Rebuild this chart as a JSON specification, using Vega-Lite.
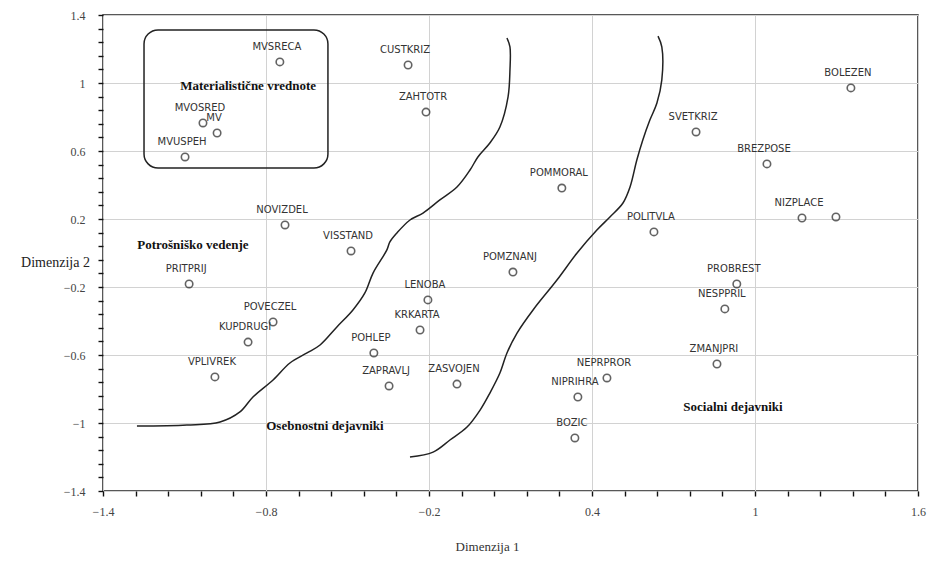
{
  "$schema": "https://vega.github.io/schema/vega-lite/v6.json",
  "width": 815,
  "height": 476,
  "autosize": {"type": "none"},
  "padding": {"left": 103, "top": 15, "right": 27, "bottom": 73},
  "background": "white",
  "config": {
    "view": {"stroke": "#222", "strokeWidth": 1.5}
  },
  "encoding": {
    "x": {
      "field": "x", "type": "quantitative",
      "scale": {"domain": [-1.4, 1.6], "nice": false, "zero": false},
      "axis": {
        "title": "Dimenzija 1",
        "values": [-1.4, -1.28, -1.16, -1.04, -0.92, -0.8, -0.68, -0.56, -0.44, -0.32, -0.2, -0.08, 0.04, 0.16, 0.28, 0.4, 0.52, 0.64, 0.76, 0.88, 1.0, 1.12, 1.24, 1.36, 1.48, 1.6],
        "labelExpr": "abs((datum.value+1.4)/0.6 - round((datum.value+1.4)/0.6)) < 0.01 ? format(datum.value, '.1~f') : ''",
        "labelOverlap": false,
        "labelFlush": false,
        "grid": true,
        "gridColor": "#d2d2d2",
        "gridWidth": 1,
        "gridOpacity": {"condition": {"test": "abs((datum.value+1.4)/0.6 - round((datum.value+1.4)/0.6)) < 0.01", "value": 1}, "value": 0},
        "domain": false,
        "ticks": true,
        "tickSize": 5,
        "tickColor": "#111",
        "tickWidth": 1.4,
        "encode": {"ticks": {"update": {"y2": {"value": -5}}}},
        "labelPadding": 10,
        "labelFont": "Liberation Serif",
        "labelFontSize": 12,
        "labelColor": "#444",
        "titleFont": "Liberation Serif",
        "titleFontSize": 13,
        "titleFontWeight": "normal",
        "titleColor": "#333",
        "titleX": 384,
        "titleY": 55,
        "titleAlign": "center",
        "titleBaseline": "middle"
      }
    },
    "y": {
      "field": "y", "type": "quantitative",
      "scale": {"domain": [-1.4, 1.4], "nice": false, "zero": false},
      "axis": {
        "title": "Dimenzija 2",
        "values": [-1.4, -1.32, -1.24, -1.16, -1.08, -1.0, -0.92, -0.84, -0.76, -0.68, -0.6, -0.52, -0.44, -0.36, -0.28, -0.2, -0.12, -0.04, 0.04, 0.12, 0.2, 0.28, 0.36, 0.44, 0.52, 0.6, 0.68, 0.76, 0.84, 0.92, 1.0, 1.08, 1.16, 1.24, 1.32, 1.4],
        "labelExpr": "abs((datum.value+1.4)/0.4 - round((datum.value+1.4)/0.4)) < 0.01 ? format(datum.value, '.1~f') : ''",
        "labelOverlap": false,
        "labelFlush": false,
        "grid": true,
        "gridColor": "#d2d2d2",
        "gridWidth": 1,
        "gridOpacity": {"condition": {"test": "abs((datum.value+1.4)/0.4 - round((datum.value+1.4)/0.4)) < 0.01", "value": 1}, "value": 0},
        "domain": false,
        "ticks": true,
        "tickSize": 5,
        "tickColor": "#111",
        "tickWidth": 1.4,
        "encode": {"ticks": {"update": {"x2": {"value": 5}}}},
        "labelPadding": 13,
        "labelFont": "Liberation Serif",
        "labelFontSize": 12,
        "labelColor": "#444",
        "titleFont": "Liberation Serif",
        "titleFontSize": 14,
        "titleFontWeight": "normal",
        "titleColor": "#222",
        "titleAngle": 0,
        "titleX": -48,
        "titleY": 247,
        "titleAlign": "center",
        "titleBaseline": "middle"
      }
    }
  },
  "layer": [
    {
      "data": {"values": [{"x": -1.249, "xe": -0.572, "y": 1.312, "ye": 0.5}]},
      "mark": {"type": "rect", "cornerRadius": 14, "fill": "transparent", "stroke": "#222", "strokeWidth": 1.5},
      "encoding": {"x2": {"field": "xe"}, "y2": {"field": "ye"}}
    },
    {
      "data": {"values": [
        {"curve": "a", "order": 1, "x": 0.087, "y": 1.265},
        {"curve": "a", "order": 2, "x": 0.098, "y": 1.212},
        {"curve": "a", "order": 3, "x": 0.098, "y": 1.076},
        {"curve": "a", "order": 4, "x": 0.091, "y": 0.918},
        {"curve": "a", "order": 5, "x": 0.061, "y": 0.741},
        {"curve": "a", "order": 6, "x": 0.024, "y": 0.647},
        {"curve": "a", "order": 7, "x": -0.02, "y": 0.565},
        {"curve": "a", "order": 8, "x": -0.049, "y": 0.488},
        {"curve": "a", "order": 9, "x": -0.097, "y": 0.388},
        {"curve": "a", "order": 10, "x": -0.16, "y": 0.312},
        {"curve": "a", "order": 11, "x": -0.222, "y": 0.235},
        {"curve": "a", "order": 12, "x": -0.27, "y": 0.194},
        {"curve": "a", "order": 13, "x": -0.318, "y": 0.118},
        {"curve": "a", "order": 14, "x": -0.344, "y": 0.065},
        {"curve": "a", "order": 15, "x": -0.355, "y": 0.018},
        {"curve": "a", "order": 16, "x": -0.406, "y": -0.118},
        {"curve": "a", "order": 17, "x": -0.436, "y": -0.235},
        {"curve": "a", "order": 18, "x": -0.48, "y": -0.335},
        {"curve": "a", "order": 19, "x": -0.539, "y": -0.435},
        {"curve": "a", "order": 20, "x": -0.601, "y": -0.541},
        {"curve": "a", "order": 21, "x": -0.649, "y": -0.588},
        {"curve": "a", "order": 22, "x": -0.712, "y": -0.647},
        {"curve": "a", "order": 23, "x": -0.774, "y": -0.747},
        {"curve": "a", "order": 24, "x": -0.848, "y": -0.847},
        {"curve": "a", "order": 25, "x": -0.896, "y": -0.935},
        {"curve": "a", "order": 26, "x": -0.969, "y": -0.994},
        {"curve": "a", "order": 27, "x": -1.091, "y": -1.012},
        {"curve": "a", "order": 28, "x": -1.275, "y": -1.018},
        {"curve": "b", "order": 1, "x": 0.643, "y": 1.276},
        {"curve": "b", "order": 2, "x": 0.657, "y": 1.212},
        {"curve": "b", "order": 3, "x": 0.657, "y": 1.018},
        {"curve": "b", "order": 4, "x": 0.639, "y": 0.882},
        {"curve": "b", "order": 5, "x": 0.613, "y": 0.782},
        {"curve": "b", "order": 6, "x": 0.587, "y": 0.665},
        {"curve": "b", "order": 7, "x": 0.565, "y": 0.547},
        {"curve": "b", "order": 8, "x": 0.54, "y": 0.388},
        {"curve": "b", "order": 9, "x": 0.514, "y": 0.294},
        {"curve": "b", "order": 10, "x": 0.466, "y": 0.212},
        {"curve": "b", "order": 11, "x": 0.418, "y": 0.135},
        {"curve": "b", "order": 12, "x": 0.345, "y": 0.0},
        {"curve": "b", "order": 13, "x": 0.271, "y": -0.159},
        {"curve": "b", "order": 14, "x": 0.183, "y": -0.335},
        {"curve": "b", "order": 15, "x": 0.124, "y": -0.471},
        {"curve": "b", "order": 16, "x": 0.087, "y": -0.588},
        {"curve": "b", "order": 17, "x": 0.061, "y": -0.706},
        {"curve": "b", "order": 18, "x": 0.024, "y": -0.824},
        {"curve": "b", "order": 19, "x": -0.012, "y": -0.924},
        {"curve": "b", "order": 20, "x": -0.06, "y": -1.024},
        {"curve": "b", "order": 21, "x": -0.123, "y": -1.1},
        {"curve": "b", "order": 22, "x": -0.185, "y": -1.171},
        {"curve": "b", "order": 23, "x": -0.27, "y": -1.2}
      ]},
      "mark": {"type": "line", "interpolate": "catmull-rom", "color": "#222", "strokeWidth": 1.5},
      "encoding": {"detail": {"field": "curve"}, "order": {"field": "order", "type": "quantitative"}}
    },
    {
      "data": {"name": "pts", "values": [
        {"name": "MVSRECA", "x": -0.749, "y": 1.124},
        {"name": "CUSTKRIZ", "x": -0.277, "y": 1.106},
        {"name": "ZAHTOTR", "x": -0.211, "y": 0.829},
        {"name": "MVOSRED", "x": -1.032, "y": 0.765},
        {"name": "MV", "x": -0.98, "y": 0.706},
        {"name": "MVUSPEH", "x": -1.098, "y": 0.565},
        {"name": "NOVIZDEL", "x": -0.73, "y": 0.165},
        {"name": "VISSTAND", "x": -0.487, "y": 0.012},
        {"name": "POMZNANJ", "x": 0.109, "y": -0.112},
        {"name": "BOLEZEN", "x": 1.353, "y": 0.971},
        {"name": "SVETKRIZ", "x": 0.783, "y": 0.712},
        {"name": "BREZPOSE", "x": 1.044, "y": 0.524},
        {"name": "POMMORAL", "x": 0.289, "y": 0.382},
        {"name": "NIZPLACE", "x": 1.173, "y": 0.206},
        {"name": "", "x": 1.298, "y": 0.212},
        {"name": "POLITVLA", "x": 0.628, "y": 0.124},
        {"name": "PROBREST", "x": 0.933, "y": -0.182},
        {"name": "NESPPRIL", "x": 0.889, "y": -0.329},
        {"name": "ZMANJPRI", "x": 0.86, "y": -0.653},
        {"name": "NEPRPROR", "x": 0.455, "y": -0.735},
        {"name": "NIPRIHRA", "x": 0.348, "y": -0.847},
        {"name": "BOZIC", "x": 0.337, "y": -1.088},
        {"name": "PRITPRIJ", "x": -1.083, "y": -0.182},
        {"name": "LENOBA", "x": -0.204, "y": -0.276},
        {"name": "POVECZEL", "x": -0.774, "y": -0.406},
        {"name": "KRKARTA", "x": -0.233, "y": -0.453},
        {"name": "KUPDRUGI", "x": -0.866, "y": -0.524},
        {"name": "POHLEP", "x": -0.403, "y": -0.588},
        {"name": "VPLIVREK", "x": -0.988, "y": -0.729},
        {"name": "ZAPRAVLJ", "x": -0.347, "y": -0.782},
        {"name": "ZASVOJEN", "x": -0.097, "y": -0.771}
      ]},
      "layer": [
        {
          "mark": {"type": "point", "shape": "circle", "filled": false, "size": 55, "strokeWidth": 1.6, "color": "#222"}
        },
        {
          "mark": {"type": "text", "dy": -15, "dx": -3, "font": "DejaVu Sans", "fontSize": 10, "color": "#333"},
          "encoding": {"text": {"field": "name"}}
        }
      ]
    },
    {
      "data": {"values": [
        {"label": "Materialistične vrednote", "x": -0.866, "y": 0.982},
        {"label": "Potrošniško vedenje", "x": -1.069, "y": 0.047},
        {"label": "Osebnostni dejavniki", "x": -0.583, "y": -1.018},
        {"label": "Socialni dejavniki", "x": 0.919, "y": -0.906}
      ]},
      "mark": {"type": "text", "font": "Liberation Serif", "fontSize": 13, "fontWeight": "bold", "color": "#111"},
      "encoding": {"text": {"field": "label"}}
    }
  ]
}
